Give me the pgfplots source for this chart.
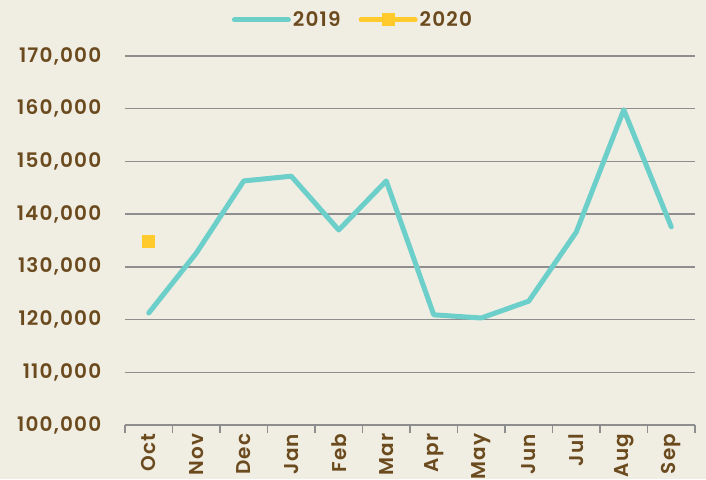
\documentclass[border=0pt]{standalone}
\usepackage{pgfplots}
\pgfplotsset{compat=1.18}
\usepackage{fontspec}
\setmainfont{Poppins}[UprightFont=* SemiBold, LetterSpace=6]
\definecolor{bgc}{HTML}{F0EDE3}
\definecolor{txt}{HTML}{6B4A1E}
\definecolor{gridc}{HTML}{8E8E8E}
\definecolor{teal}{HTML}{6DCFCA}
\definecolor{yel}{HTML}{FFCA2C}
\begin{document}
\begin{tikzpicture}[x=1pt,y=1pt]
\fill[bgc] (0,0) rectangle (706,479);
\useasboundingbox (0,0) rectangle (706,479);
\begin{axis}[
  at={(125pt,54pt)}, anchor=south west,
  scale only axis, width=570pt, height=369pt,
  xmin=-0.5, xmax=11.5, ymin=100000, ymax=170000,
  axis x line*=bottom, axis y line*=left,
  x axis line style={gridc, line width=1.5pt, -},
  y axis line style={draw=none},
  xtick={0,...,11},
  xticklabels={Oct,Nov,Dec,Jan,Feb,Mar,Apr,May,Jun,Jul,Aug,Sep},
  major x tick style={draw=none},
  major y tick style={draw=none},
  minor xtick={-0.5,0.5,...,11.5},
  minor x tick style={gridc, line width=1.5pt},
  tick align=outside, minor tick length=8pt,
  x tick label style={rotate=90, anchor=east, font=\fontsize{20}{20}\selectfont, text=txt},
  xticklabel shift=1pt,
  ytick={100000,110000,120000,130000,140000,150000,160000,170000},
  yticklabels={{100,000},{110,000},{120,000},{130,000},{140,000},{150,000},{160,000},{170,000}},
  ymajorgrids, grid style={gridc, line width=1.5pt},
  y tick label style={font=\fontsize{20}{20}\selectfont, text=txt},
  scaled y ticks=false,
  yticklabel shift=16pt,
  legend style={at={(0.40,1.098)}, anchor=center, draw=none, fill=none,
    font=\fontsize{20}{20}\selectfont, text=txt, legend columns=2,
    /tikz/every even column/.append style={column sep=16pt}},
  legend image code/.code={\draw[mark repeat=2,mark phase=2,#1] plot coordinates {(0pt,0pt) (27pt,0pt) (54pt,0pt)};},
]
\addplot[teal, line width=5pt, line cap=round, line join=round] coordinates {
(0,121250) (1,132600) (2,146300) (3,147200) (4,137000) (5,146300)
(6,120900) (7,120300) (8,123500) (9,136600) (10,159800) (11,137600)};
\addlegendentry{2019}
\addplot[yel, line width=5pt, line cap=round, mark=square*, mark size=6pt, mark options={line width=0pt}] coordinates {(0,134900)};
\addlegendentry{2020}
\end{axis}
\end{tikzpicture}
\end{document}
